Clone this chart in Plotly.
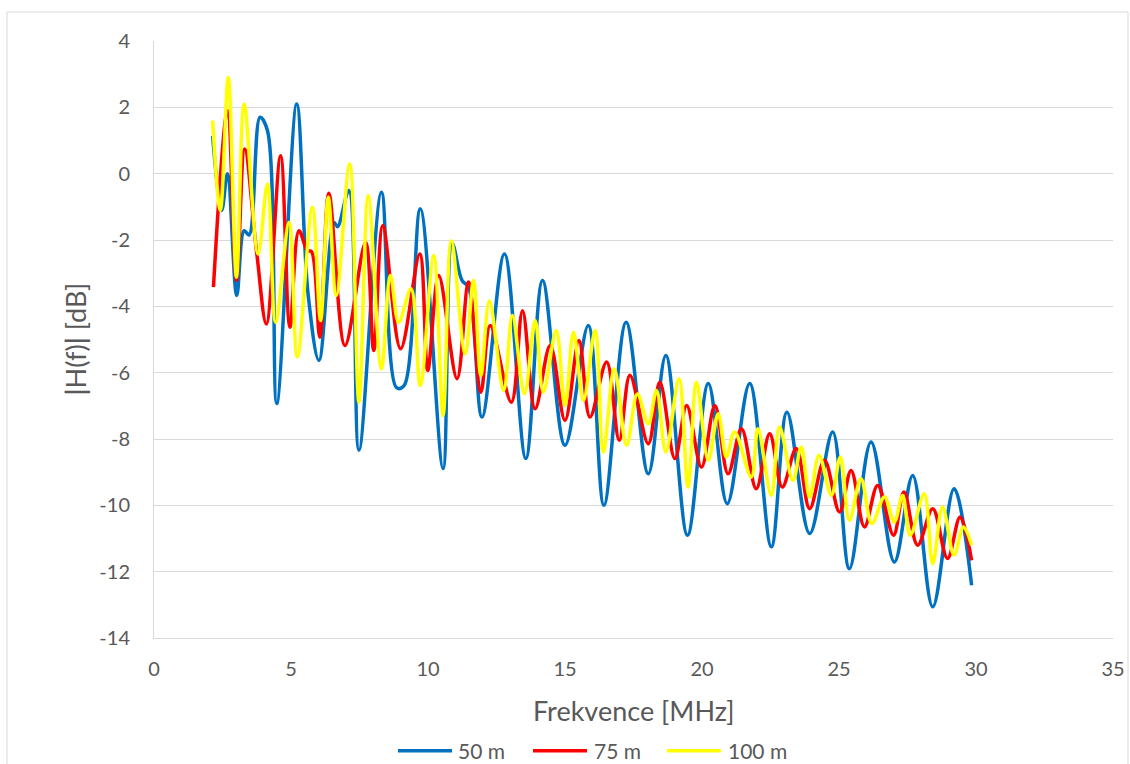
import plotly.graph_objects as go

# ---- data (extrema of each smoothed curve) ----
x_50 = [2.14, 2.47, 2.68, 3.02, 3.29, 3.47, 3.87, 4.14, 4.48, 5.21, 5.62, 6.02, 6.57, 6.70, 7.11, 7.48,
        8.30, 8.85, 9.12, 9.72, 10.55, 10.88, 11.24, 11.48, 11.97, 12.79, 13.57, 14.18, 15.00, 15.85,
        16.42, 17.23, 18.04, 18.68, 19.47, 20.23, 20.92, 21.74, 22.53, 23.10, 23.93, 24.77, 25.38,
        26.17, 27.02, 27.69, 28.42, 29.20, 29.84]
y_50 = [1.14, -1.11, 0.0, -3.67, -1.72, -1.85, 1.70, 1.30, -6.93, 2.10, -3.6, -5.63, -1.47, -1.6, -0.51, -8.34,
        -0.56, -6.45, -6.4, -1.06, -8.89, -2.1, -3.22, -3.42, -7.34, -2.42, -8.59, -3.22, -8.19, -4.58,
        -10.0, -4.48, -9.05, -5.48, -10.9, -6.33, -9.95, -6.33, -11.25, -7.19, -10.85, -7.79, -11.91,
        -8.09, -11.71, -9.1, -13.06, -9.5, -12.41]

x_75 = [2.17, 2.68, 3.01, 3.31, 3.75, 4.10, 4.62, 4.96, 5.29, 5.60, 5.75, 6.05, 6.38, 6.97, 7.72, 8.02,
        8.35, 9.00, 9.70, 9.99, 10.39, 11.06, 11.48, 11.93, 12.27, 13.04, 13.45, 13.91, 14.46, 15.00,
        15.51, 15.91, 16.52, 16.98, 17.37, 18.04, 18.46, 19.01, 19.44, 19.98, 20.47, 20.95, 21.44,
        21.98, 22.47, 22.93, 23.44, 23.93, 24.47, 25.02, 25.44, 25.93, 26.41, 26.99, 27.37, 27.87,
        28.42, 28.96, 29.42, 29.84]
y_75 = [-3.42, 1.9, -3.22, 0.74, -2.4, -4.53, 0.54, -4.63, -1.72, -2.32, -2.35, -4.93, -0.59, -5.18, -2.07, -5.33,
        -1.57, -5.28, -2.42, -5.93, -3.07, -6.18, -3.27, -6.59, -4.58, -6.89, -4.13, -7.09, -5.18, -7.44,
        -5.03, -7.34, -5.68, -8.04, -6.08, -8.14, -6.29, -8.59, -6.99, -8.85, -6.99, -9.05, -7.69,
        -9.5, -7.84, -9.45, -8.29, -10.1, -8.64, -10.2, -8.95, -10.65, -9.4, -10.9, -9.6, -11.2,
        -10.1, -11.6, -10.35, -11.66]

x_100 = [2.14, 2.42, 2.71, 3.01, 3.29, 3.80, 4.14, 4.44, 4.93, 5.23, 5.78, 6.08, 6.36, 6.65, 7.14, 7.48,
         7.82, 8.30, 8.63, 8.93, 9.38, 9.72, 10.21, 10.55, 10.85, 11.36, 11.66, 11.93, 12.24, 12.76,
         13.08, 13.52, 13.91, 14.21, 14.68, 15.00, 15.31, 15.67, 16.10, 16.40, 16.80, 17.25, 17.64,
         18.04, 18.34, 18.68, 19.16, 19.49, 19.80, 20.23, 20.59, 20.89, 21.19, 21.80, 22.04, 22.53,
         22.83, 23.32, 23.62, 23.93, 24.27, 24.72, 25.05, 25.38, 25.80, 26.20, 26.66, 27.02, 27.32,
         27.60, 28.11, 28.42, 28.78, 29.20, 29.54, 29.84]
y_100 = [1.6, -1.11, 2.9, -3.12, 2.1, -2.42, -0.31, -4.48, -1.47, -5.53, -1.01, -4.43, -0.71, -3.67, 0.29, -6.89,
         -0.66, -5.88, -3.07, -4.48, -3.47, -6.39, -2.47, -7.29, -2.02, -5.43, -3.22, -6.08, -3.83, -6.54,
         -4.28, -6.64, -4.43, -6.59, -4.73, -6.99, -4.78, -6.84, -4.73, -8.39, -5.88, -8.19, -6.64,
         -7.54, -6.54, -8.39, -6.18, -9.45, -6.29, -8.64, -7.24, -8.54, -7.79, -9.15, -7.69, -9.70,
         -7.64, -9.25, -8.24, -9.75, -8.49, -9.7, -8.54, -10.45, -9.2, -10.55, -9.75, -10.5, -9.7,
         -10.9, -9.65, -11.76, -10.05, -11.5, -10.65, -11.2]

series_names = ["50 m", "75 m", "100 m"]
series_colors = ["#0070C0", "#FF0000", "#FFFF00"]

x_ticks = [0, 5, 10, 15, 20, 25, 30, 35]
y_ticks = [4, 2, 0, -2, -4, -6, -8, -10, -12, -14]

FONT = "Lato"
GRAY = "#595959"

# plot-area geometry in pixels (for placing paper-referenced decorations)
L, R, T, B = 154, 1113, 41, 637.7
W, H = R - L, B - T


def px_x(p):
    return (p - L) / W


def px_y(p):
    return (B - p) / H


fig = go.Figure()
for xs, ys, name, col in zip([x_50, x_75, x_100], [y_50, y_75, y_100], series_names, series_colors):
    fig.add_trace(go.Scatter(
        x=xs, y=ys, name=name, mode="lines", showlegend=False,
        line=dict(color=col, width=3.5, shape="spline", smoothing=1.0),
    ))

# custom legend (Excel style: long line samples)
legend_line_x = [(398, 452), (533, 587), (667, 721)]
legend_text_x = [456, 592, 726]
legend_y = 750.5
shapes = [
    dict(type="rect", xref="paper", yref="paper",
         x0=px_x(7), x1=px_x(1128), y0=px_y(775), y1=px_y(12),
         line=dict(color="#d9d9d9", width=1), fillcolor="rgba(0,0,0,0)", layer="below"),
]
annotations = [
    dict(text="Frekvence [MHz]", xref="paper", yref="paper", x=0.5, y=px_y(710),
         xanchor="center", yanchor="middle", showarrow=False,
         font=dict(size=27, color=GRAY, family=FONT)),
    dict(text="<b>|</b>H(f)<b>|</b> [dB]", xref="paper", yref="paper", x=px_x(75), y=0.5,
         xanchor="center", yanchor="middle", showarrow=False, textangle=-90,
         font=dict(size=27, color=GRAY, family=FONT)),
]
for (a, b), tx, name, col in zip(legend_line_x, legend_text_x, series_names, series_colors):
    shapes.append(dict(type="line", xref="paper", yref="paper",
                       x0=px_x(a), x1=px_x(b), y0=px_y(legend_y), y1=px_y(legend_y),
                       line=dict(color=col, width=3.5)))
    annotations.append(dict(text=name, xref="paper", yref="paper", x=px_x(tx), y=px_y(legend_y),
                            xanchor="left", yanchor="middle", showarrow=False,
                            font=dict(size=21, color=GRAY, family=FONT)))

fig.update_layout(
    width=1130, height=764,
    margin=dict(l=L, r=1130 - R, t=T, b=764 - B, autoexpand=False),
    paper_bgcolor="white", plot_bgcolor="white",
    font=dict(family=FONT, color=GRAY, size=20),
    showlegend=False,
    xaxis=dict(range=[0, 35], tickvals=x_ticks, ticktext=[str(v) for v in x_ticks],
               showgrid=False, zeroline=False,
               showline=True, linecolor="#d9d9d9", linewidth=1, ticks="",
               ticklabelstandoff=13, tickfont=dict(size=20, color=GRAY, family=FONT)),
    yaxis=dict(range=[-14, 4], tickvals=y_ticks, ticktext=[str(v) for v in y_ticks],
               showgrid=True, gridcolor="#d9d9d9", gridwidth=1,
               zeroline=False, showline=True, linecolor="#d9d9d9", linewidth=1, ticks="",
               ticklabelstandoff=19, tickfont=dict(size=20, color=GRAY, family=FONT)),
    annotations=annotations,
    shapes=shapes,
)

fig.write_html("out.html")
